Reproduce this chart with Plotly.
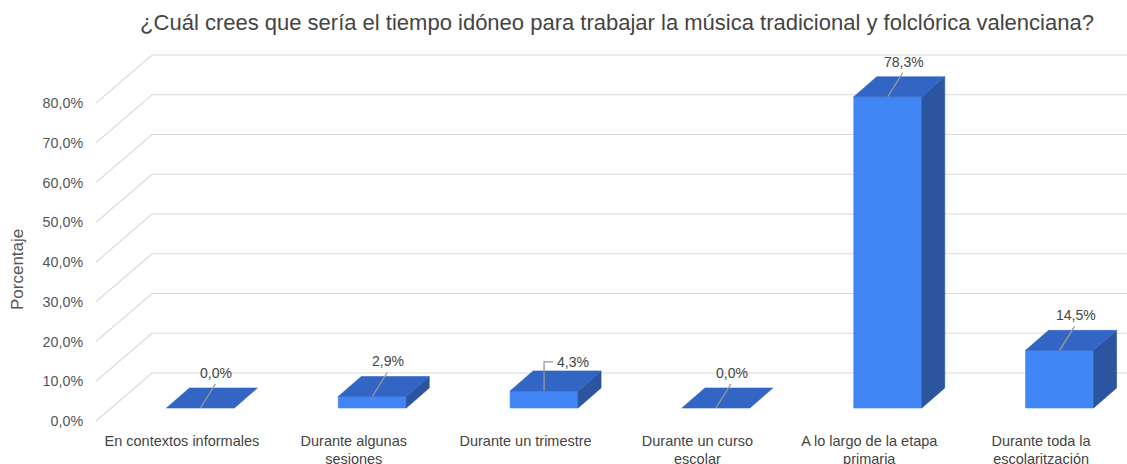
import plotly.graph_objects as go

# ---- data ----
categories = [
    "En contextos informales",
    "Durante algunas<br>sesiones",
    "Durante un trimestre",
    "Durante un curso<br>escolar",
    "A lo largo de la etapa<br>primaria",
    "Durante toda la<br>escolaritzación",
]
values = [0.0, 2.9, 4.3, 0.0, 78.3, 14.5]
value_labels = ["0,0%", "2,9%", "4,3%", "0,0%", "78,3%", "14,5%"]
y_ticks = [0, 10, 20, 30, 40, 50, 60, 70, 80]
y_tick_labels = ["0,0%", "10,0%", "20,0%", "30,0%", "40,0%", "50,0%", "60,0%", "70,0%", "80,0%"]

title = "¿Cuál crees que sería el tiempo idóneo para trabajar la música tradicional y folclórica valenciana?"
y_title = "Porcentaje"

# ---- layout geometry (pixels) ----
W, H = 1127, 464
ML, MR, MT, MB = 96, 0, 50, 34
plot_w = W - ML - MR
plot_h = H - MT - MB
n = len(categories)
x_range = [-0.5, n - 0.5]
px_per_x = plot_w / (x_range[1] - x_range[0])
px_per_y = 3.975                      # pixels per percentage point
y_min = -9 / px_per_y                 # zero sits 9px above the plot bottom
y_range = [y_min, y_min + plot_h / px_per_y]


def ux(px):
    return px / px_per_x


def uy(px):
    return px / px_per_y


# pseudo-3D offsets (pixels)
WALL_DX, WALL_DY = 56, 48            # depth of the back wall
BAR_SHIFT_X, BAR_SHIFT_Y = 18.5, 13  # where a bar's front face sits
BAR_DX, BAR_DY = 23, 20              # depth of a bar
BAR_HALF_W = 34

FRONT = "#4285F4"
TOP = "#3366C4"
SIDE = "#2B559E"
GRID = "#DADADA"
TEXT = "#444444"
FONT = "Liberation Sans, Arial, sans-serif"

fig = go.Figure()

# back wall grid: a diagonal from the axis then a horizontal line
for v in y_ticks:
    xs = [x_range[0], x_range[0] + ux(WALL_DX), x_range[1]]
    ys = [v, v + uy(WALL_DY), v + uy(WALL_DY)]
    fig.add_trace(go.Scatter(x=xs, y=ys, mode="lines",
                             line=dict(color=GRID, width=1.2),
                             hoverinfo="skip", showlegend=False))


def poly(xs, ys, color):
    fig.add_trace(go.Scatter(x=xs + [xs[0]], y=ys + [ys[0]], mode="lines",
                             fill="toself", fillcolor=color,
                             line=dict(color=color, width=0.6),
                             hoverinfo="skip", showlegend=False))


# bars
for i, v in enumerate(values):
    cx = i + ux(BAR_SHIFT_X)
    x0, x1 = cx - ux(BAR_HALF_W), cx + ux(BAR_HALF_W)
    y0 = uy(BAR_SHIFT_Y)
    y1 = y0 + v
    ddx, ddy = ux(BAR_DX), uy(BAR_DY)
    if v > 0:
        poly([x0, x1, x1, x0], [y0, y0, y1, y1], FRONT)
        poly([x1, x1 + ddx, x1 + ddx, x1], [y0, y0 + ddy, y1 + ddy, y1], SIDE)
    poly([x0, x1, x1 + ddx, x0 + ddx], [y1, y1, y1 + ddy, y1 + ddy], TOP)

# value labels with leader lines
elbow_label = [False, False, True, False, False, False]
annotations = []
for i, (v, lab) in enumerate(zip(values, value_labels)):
    cx = i + ux(BAR_SHIFT_X)
    top = uy(BAR_SHIFT_Y) + v
    if elbow_label[i]:
        lx = [cx, cx, cx + ux(9)]
        ly = [top, top + uy(29), top + uy(29)]
        annotations.append(dict(x=cx + ux(11), y=top + uy(29), text=lab,
                                showarrow=False, xanchor="left", yanchor="middle",
                                font=dict(size=14, color=TEXT, family=FONT)))
    else:
        lx = [cx, cx + ux(15)]
        ly = [top, top + uy(24)]
        annotations.append(dict(x=cx + ux(16), y=top + uy(35), text=lab,
                                showarrow=False, xanchor="center", yanchor="middle",
                                font=dict(size=14, color=TEXT, family=FONT)))
    fig.add_trace(go.Scatter(x=lx, y=ly, mode="lines",
                             line=dict(color="#999999", width=1.3),
                             hoverinfo="skip", showlegend=False))

# y-axis title
annotations.append(dict(xref="paper", yref="paper",
                        x=(17 - ML) / plot_w, y=(H - MB - 270) / plot_h,
                        text=y_title, textangle=-90, showarrow=False,
                        xanchor="center", yanchor="middle",
                        font=dict(size=17, color="#555555", family=FONT)))

fig.update_layout(
    width=W, height=H,
    margin=dict(l=ML, r=MR, t=MT, b=MB),
    paper_bgcolor="white", plot_bgcolor="white",
    font=dict(family=FONT, color=TEXT),
    title=dict(text=title, x=617 / W, xanchor="center", y=1 - 22 / H,
               yanchor="middle", font=dict(size=22, color=TEXT, family=FONT)),
    xaxis=dict(range=x_range, tickvals=list(range(n)), ticktext=categories,
               showgrid=False, zeroline=False, showline=False, ticks="",
               automargin=False,
               tickfont=dict(size=14.5, color=TEXT, family=FONT), fixedrange=True),
    yaxis=dict(range=y_range, tickvals=y_ticks, ticktext=y_tick_labels,
               showgrid=False, zeroline=False, showline=False,
               ticks="outside", ticklen=9, tickcolor="rgba(0,0,0,0)",
               automargin=False,
               tickfont=dict(size=14.3, color="#555555", family=FONT), fixedrange=True),
    annotations=annotations,
    showlegend=False,
)

fig.write_html("out.html", config={"displayModeBar": False})
